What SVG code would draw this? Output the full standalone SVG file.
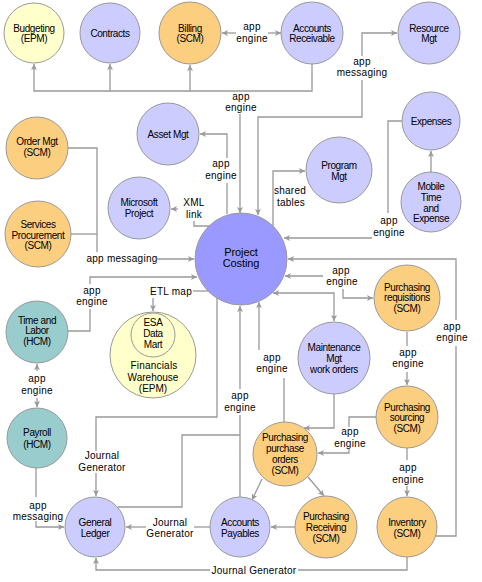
<svg xmlns="http://www.w3.org/2000/svg" width="482" height="582" viewBox="0 0 482 582">
<style>
.n circle{stroke:#999;stroke-width:1}
.lav{fill:#CCCCFF}.org{fill:#FCCF80}.yel{fill:#FFFFCC}.teal{fill:#99CCCC}.pc{fill:#9999FF}
text{font-family:"Liberation Sans",Arial,sans-serif;font-size:10px;text-anchor:middle;fill:#000}
.n text{letter-spacing:-0.4px}
.c path{fill:none;stroke:#999;stroke-width:1.3}
.c path.a{marker-end:url(#ar)}
.c path.b{marker-start:url(#ar);marker-end:url(#ar)}
.c text{letter-spacing:0.25px}
</style>
<defs>
<marker id="ar" markerWidth="8" markerHeight="8" refX="6" refY="3" orient="auto-start-reverse" markerUnits="userSpaceOnUse">
<path d="M0,0 L6,3 L0,6 L1.5,3 z" fill="#999"/>
</marker>
</defs>
<rect width="482" height="582" fill="#fff"/>
<g id="connectors" class="c">
<path class="a" d="M312,64 V91 H34 V64"/>
<path class="a" d="M110,91 V64"/>
<path class="a" d="M190,91 V65"/>
<path class="a" d="M240,114 V213"/>
<text x="241" y="100">app</text><text x="241" y="111">engine</text>
<path d="M236,33 H222" class="a"/>
<path d="M268,33 H281" class="a"/>
<text x="252" y="30">app</text><text x="252" y="42">engine</text>
<path class="a" d="M362,80 V117 H258 V215"/>
<path class="a" d="M362,56 V33 H397"/>
<text x="362" y="65">app</text><text x="362" y="75.5">messaging</text>
<path d="M227,214 V183"/>
<path class="a" d="M227,158 V134 H200"/>
<text x="221" y="167">app</text><text x="221" y="179">engine</text>
<path class="a" d="M178,209 H171"/>
<path d="M194,221 V226 H209"/>
<text x="194" y="206">XML</text><text x="194" y="217.5">link</text>
<path d="M68,148 H97 V252"/>
<path d="M71,234 H97"/>
<path class="a" d="M157,259 H194"/>
<text x="122" y="262">app messaging</text>
<path d="M68,331 H90 V309"/>
<path class="a" d="M90,284 V277 H197"/>
<text x="92" y="294">app</text><text x="92" y="305">engine</text>
<path d="M193,291 H208"/>
<path class="a" d="M153,298 V311"/>
<text x="171" y="294.5">ETL map</text>
<path class="a" d="M37,371 V364"/>
<path class="a" d="M37,398 V407"/>
<text x="37" y="382">app</text><text x="37" y="394">engine</text>
<path d="M36,468 V497"/>
<path class="a" d="M36,521 V527 H64"/>
<text x="38" y="509">app</text><text x="38" y="520">messaging</text>
<path d="M217,298 V417 H96 V451"/>
<path class="a" d="M96,473 V496"/>
<text x="102" y="459">Journal</text><text x="102" y="470.5">Generator</text>
<path d="M240,497 V415"/>
<path class="a" d="M240,389 V306"/>
<path d="M240,435 H182 V507 H118"/>
<text x="240" y="399">app</text><text x="240" y="411">engine</text>
<path d="M284,422 V378"/>
<path class="a" d="M259,350 V302"/>
<text x="272" y="361">app</text><text x="272" y="372">engine</text>
<path class="b" d="M273,293 H334 V321"/>
<path class="a" d="M334,394 V428 H304"/>
<path d="M377,417 H349 V427"/>
<path class="a" d="M349,449 V453 H318"/>
<text x="350" y="435">app</text><text x="350" y="447">engine</text>
<path class="a" d="M262,479 L252,500"/>
<path class="a" d="M308,477 L324,496"/>
<path class="a" d="M295,527 H271"/>
<path d="M210,527 H194"/>
<path class="a" d="M146,527 H126"/>
<text x="170" y="525.5">Journal</text><text x="170" y="536.5">Generator</text>
<path d="M407,557 V570 H298"/>
<path class="a" d="M210,570 H96 V558"/>
<text x="254" y="573.5">Journal Generator</text>
<path d="M436,536 H456 V346"/>
<path class="a" d="M456,320 V259 H288"/>
<text x="452" y="330">app</text><text x="452" y="341">engine</text>
<path d="M407,332 V346"/>
<path class="a" d="M407,372 V385"/>
<text x="408" y="356">app</text><text x="408" y="367">engine</text>
<path d="M407,448 V460"/>
<path class="a" d="M407,486 V496"/>
<text x="408" y="471">app</text><text x="408" y="483">engine</text>
<path class="a" d="M323,276 H285"/>
<path class="a" d="M343,289 V298 H373"/>
<text x="341" y="274">app</text><text x="342" y="285">engine</text>
<path d="M402,121 H388 V213"/>
<path class="a" d="M372,238 H284"/>
<text x="389" y="224">app</text><text x="389" y="236">engine</text>
<path class="a" d="M431,173 V151"/>
<path class="a" d="M273,226 V171 H305"/>
<text x="290" y="194">shared</text><text x="291" y="206">tables</text>
</g>
<g id="budgeting" class="n"><circle class="yel" cx="34" cy="33" r="30"/><text x="34" y="31.5">Budgeting</text><text x="34" y="42">(EPM)</text></g>
<g id="contracts" class="n"><circle class="lav" cx="110" cy="33" r="30"/><text x="110" y="36.5">Contracts</text></g>
<g id="billing" class="n"><circle class="org" cx="190" cy="33" r="31"/><text x="190" y="31.5">Billing</text><text x="190" y="42">(SCM)</text></g>
<g id="accounts-receivable" class="n"><circle class="lav" cx="312" cy="33" r="31"/><text x="312" y="31.5">Accounts</text><text x="312" y="42">Receivable</text></g>
<g id="resource-mgt" class="n"><circle class="lav" cx="429" cy="33" r="31"/><text x="429" y="31.5">Resource</text><text x="429" y="42">Mgt</text></g>
<g id="asset-mgt" class="n"><circle class="lav" cx="168" cy="134" r="31"/><text x="168" y="137.5">Asset Mgt</text></g>
<g id="program-mgt" class="n"><circle class="lav" cx="339" cy="170" r="33"/><text x="339" y="168.5">Program</text><text x="339" y="179.5">Mgt</text></g>
<g id="expenses" class="n"><circle class="lav" cx="431" cy="121" r="29"/><text x="431" y="124.5">Expenses</text></g>
<g id="mobile" class="n"><circle class="lav" cx="431" cy="202" r="30"/><text x="431" y="189.5">Mobile</text><text x="431" y="200.5">Time</text><text x="431" y="211.5">and</text><text x="431" y="221.5">Expense</text></g>
<g id="order-mgt" class="n"><circle class="org" cx="37" cy="148" r="31"/><text x="37" y="145">Order Mgt</text><text x="37" y="156">(SCM)</text></g>
<g id="services-procurement" class="n"><circle class="org" cx="38" cy="234" r="33"/><text x="38" y="227.5">Services</text><text x="38" y="238.5">Procurement</text><text x="38" y="249">(SCM)</text></g>
<g id="microsoft-project" class="n"><circle class="lav" cx="139" cy="208" r="31"/><text x="139" y="206">Microsoft</text><text x="139" y="217">Project</text></g>
<g id="project-costing" class="n"><circle class="pc" cx="241" cy="259" r="46"/><text x="241" y="256" style="font-size:11px;letter-spacing:-0.1px">Project</text><text x="241" y="267" style="font-size:11px;letter-spacing:-0.1px">Costing</text></g>
<g id="time-and-labor" class="n"><circle class="teal" cx="37" cy="332" r="31"/><text x="37" y="323.5">Time and</text><text x="37" y="334">Labor</text><text x="37" y="345">(HCM)</text></g>
<g id="financials-warehouse" class="n"><circle class="yel" cx="153" cy="355" r="43"/><circle class="yel" cx="153" cy="335" r="22"/><text x="153" y="325.5">ESA</text><text x="153" y="336.5">Data</text><text x="153" y="347.5">Mart</text><text x="154" y="368.5" style="letter-spacing:0.2px">Financials</text><text x="153" y="380.5" style="letter-spacing:0">Warehouse</text><text x="153" y="391.5" style="letter-spacing:0">(EPM)</text></g>
<g id="payroll" class="n"><circle class="teal" cx="37" cy="438" r="30"/><text x="37" y="435.5">Payroll</text><text x="37" y="447.5">(HCM)</text></g>
<g id="maintenance-mgt" class="n"><circle class="lav" cx="334" cy="358" r="36"/><text x="334" y="350.5">Maintenance</text><text x="334" y="361.5">Mgt</text><text x="334" y="372.5">work orders</text></g>
<g id="purchasing-requisitions" class="n"><circle class="org" cx="407" cy="298" r="33"/><text x="407" y="290.5">Purchasing</text><text x="407" y="300.5">requisitions</text><text x="407" y="311.5">(SCM)</text></g>
<g id="purchasing-sourcing" class="n"><circle class="org" cx="407" cy="417" r="31"/><text x="407" y="410.5">Purchasing</text><text x="407" y="420.5">sourcing</text><text x="407" y="431.5">(SCM)</text></g>
<g id="purchasing-purchase-orders" class="n"><circle class="org" cx="285" cy="454" r="32"/><text x="285" y="440.5">Purchasing</text><text x="285" y="451.5">purchase</text><text x="285" y="462.5">orders</text><text x="285" y="473.5">(SCM)</text></g>
<g id="general-ledger" class="n"><circle class="lav" cx="95" cy="527" r="30"/><text x="95" y="525.5">General</text><text x="95" y="536.5">Ledger</text></g>
<g id="accounts-payables" class="n"><circle class="lav" cx="240" cy="527" r="30"/><text x="240" y="525.5">Accounts</text><text x="240" y="536.5">Payables</text></g>
<g id="purchasing-receiving" class="n"><circle class="org" cx="326" cy="527" r="31"/><text x="326" y="519.5">Purchasing</text><text x="326" y="530.5">Receiving</text><text x="326" y="541.5">(SCM)</text></g>
<g id="inventory" class="n"><circle class="org" cx="407" cy="527" r="30"/><text x="407" y="525.5">Inventory</text><text x="407" y="536.5">(SCM)</text></g>
</svg>
